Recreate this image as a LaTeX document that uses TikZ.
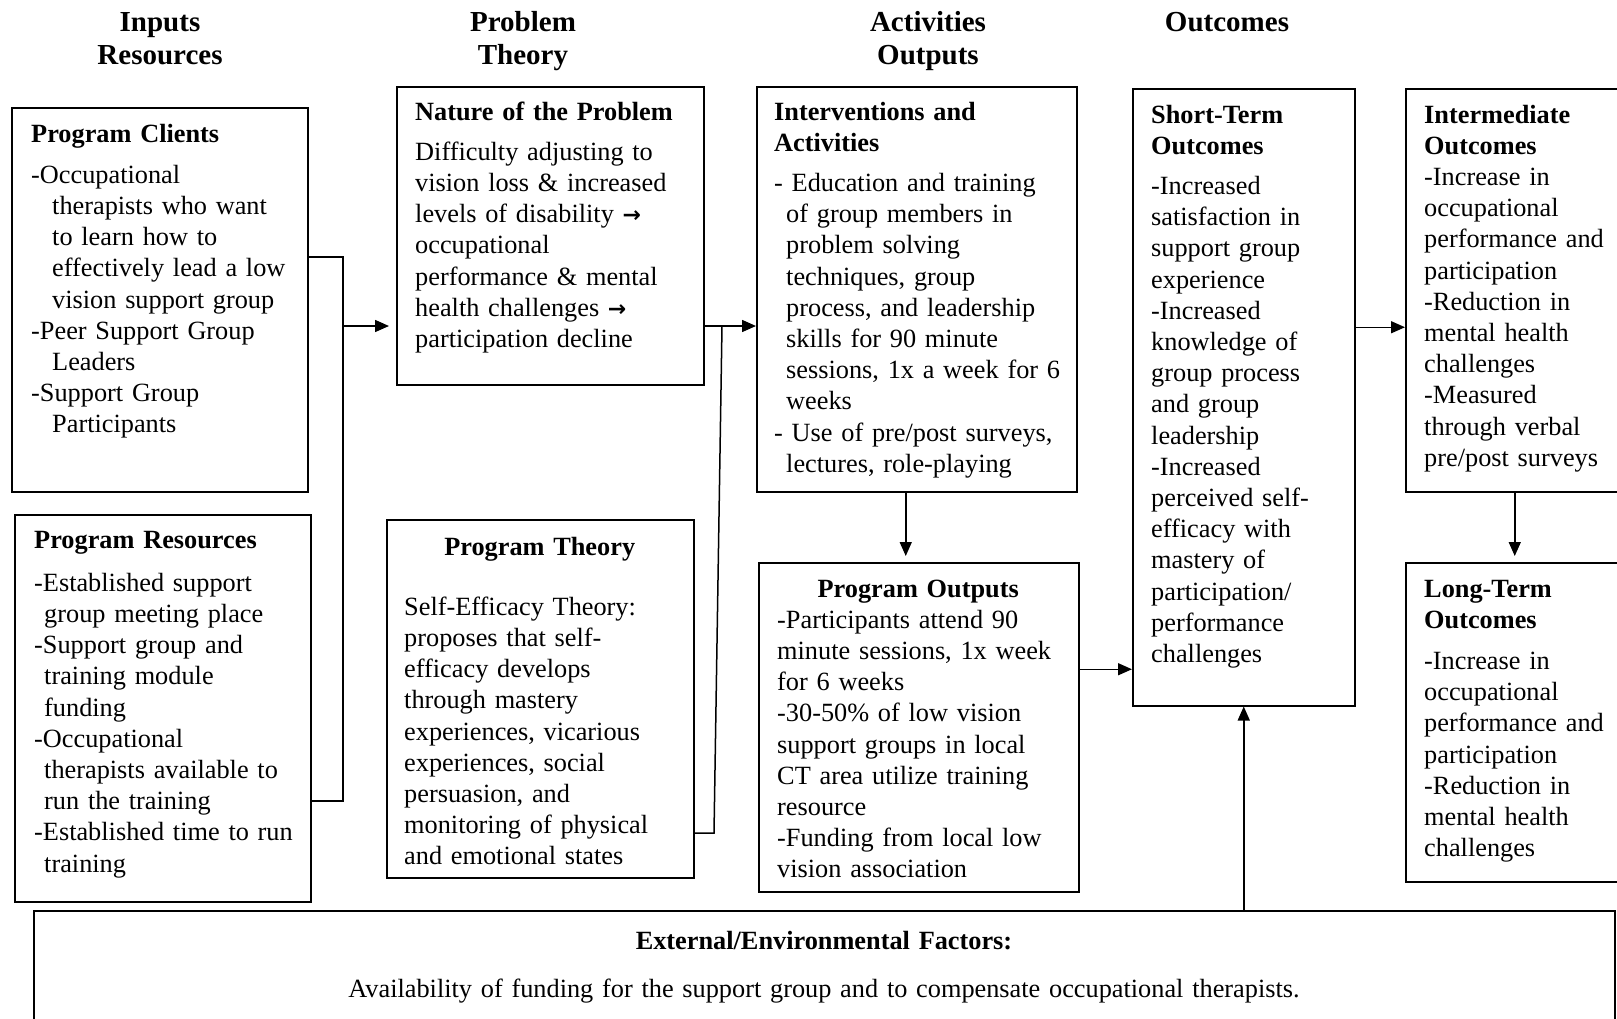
\documentclass[tikz,border=0pt]{standalone}
\usepackage{fontspec}
\setmainfont{Liberation Serif}
\newfontfamily\arrowfont{DejaVu Sans}
\usetikzlibrary{positioning,arrows.meta}
\newcommand{\ind}[1][21pt]{\hspace*{#1}}
\newcommand{\leadsarrow}{{\arrowfont\bfseries\fontsize{22}{31}\selectfont →}}

\begin{document}
\begin{tikzpicture}[x=1pt,y=-1pt,
  frame/.style={draw,line width=1.5pt,anchor=north west,inner sep=0pt},
  txt/.style={anchor=base west,inner sep=0pt,align=left,text width=#1,
    font=\fontsize{26.3}{31.2}\selectfont},
  txt/.default=300pt,
  head/.style={anchor=base,inner sep=0pt,align=center,text width=300pt,
    font=\fontsize{29}{33}\selectfont\bfseries},
  arr/.style={-{Triangle[length=14pt,width=12pt]},line width=1.5pt},
  link/.style={line width=1.5pt}
]
\useasboundingbox (0,0) rectangle (1617,1018);
\clip (0,0) rectangle (1617,1018);

% column heads
\node[head] (hIn) at (160,31) {Inputs\\Resources};
\node[head] (hPr) at (523,31) {Problem\\Theory};
\node[head] (hAc) at (928,31) {Activities\\Outputs};
\node[head] (hOut) at (1227,31) {Outcomes};

% boxes
\node[frame,minimum width=296pt,minimum height=384pt] (pc) at (11,107) {};
\node[frame,minimum width=296pt,minimum height=387pt] (pr) at (14,514) {};
\node[frame,minimum width=307pt,minimum height=298pt] (np) at (396,86) {};
\node[frame,minimum width=307pt,minimum height=358pt] (pt) at (386,519) {};
\node[frame,minimum width=320pt,minimum height=405pt] (ia) at (756,86) {};
\node[frame,minimum width=320pt,minimum height=329pt] (po) at (758,562) {};
\node[frame,minimum width=222pt,minimum height=617pt] (st) at (1132,88) {};
\node[frame,minimum width=230pt,minimum height=403pt] (io) at (1405,88) {};
\node[frame,minimum width=230pt,minimum height=319pt] (lo) at (1405,562) {};
\node[frame,minimum width=1581pt,minimum height=130pt] (ef) at (33,910) {};

% box texts
\node[txt] (pcText) at (31,142) {\textbf{Program Clients}\\[10pt]
-Occupational\\
\ind therapists who want\\
\ind to learn how to\\
\ind effectively lead a low\\
\ind vision support group\\
-Peer Support Group\\
\ind Leaders\\
-Support Group\\
\ind Participants};

\node[txt] (prText) at (34,548) {\textbf{Program Resources}\\[12pt]
-Established support\\
\ind[10pt]group meeting place\\
-Support group and\\
\ind[10pt]training module\\
\ind[10pt]funding\\
-Occupational\\
\ind[10pt]therapists available to\\
\ind[10pt]run the training\\
-Established time to run\\
\ind[10pt]training};

\node[txt] (npText) at (415,120) {\textbf{Nature of the Problem}\\[9pt]
Difficulty adjusting to\\
vision loss \& increased\\
levels of disability \leadsarrow\\
occupational\\
performance \& mental\\
health challenges \leadsarrow\\
participation decline};

\node[txt=271pt] (ptText) at (404,555) {\makebox[\linewidth]{\textbf{Program Theory}}\\[29pt]
Self-Efficacy Theory:\\
proposes that self-\\
efficacy develops\\
through mastery\\
experiences, vicarious\\
experiences, social\\
persuasion, and\\
monitoring of physical\\
and emotional states};

\node[txt] (iaText) at (774,120) {\textbf{Interventions and}\\
\textbf{Activities}\\[9pt]
- Education and training\\
\ind[12pt]of group members in\\
\ind[12pt]problem solving\\
\ind[12pt]techniques, group\\
\ind[12pt]process, and leadership\\
\ind[12pt]skills for 90 minute\\
\ind[12pt]sessions, 1x a week for 6\\
\ind[12pt]weeks\\
- Use of pre/post surveys,\\
\ind[12pt]lectures, role-playing};

\node[txt=282pt] (poText) at (777,597) {\makebox[\linewidth]{\textbf{Program Outputs}}\\
-Participants attend 90\\
minute sessions, 1x week\\
for 6 weeks\\
-30-50\% of low vision\\
support groups in local\\
CT area utilize training\\
resource\\
-Funding from local low\\
vision association};

\node[txt] (stText) at (1151,123) {\textbf{Short-Term}\\
\textbf{Outcomes}\\[9pt]
-Increased\\
satisfaction in\\
support group\\
experience\\
-Increased\\
knowledge of\\
group process\\
and group\\
leadership\\
-Increased\\
perceived self-\\
efficacy with\\
mastery of\\
participation/\\
performance\\
challenges};

\node[txt] (ioText) at (1424,123) {\textbf{Intermediate}\\
\textbf{Outcomes}\\
-Increase in\\
occupational\\
performance and\\
participation\\
-Reduction in\\
mental health\\
challenges\\
-Measured\\
through verbal\\
pre/post surveys};

\node[txt] (loText) at (1424,597) {\textbf{Long-Term}\\
\textbf{Outcomes}\\[10pt]
-Increase in\\
occupational\\
performance and\\
participation\\
-Reduction in\\
mental health\\
challenges};

\node[txt=1500pt,anchor=base,align=center] (efText) at (824,949) {\textbf{External/Environmental Factors:}\\[17pt]
Availability of funding for the support group and to compensate occupational therapists.};

% connectors
\coordinate (b1top) at (343,257);
\coordinate (b1mid) at (343,326);
\coordinate (b1bot) at (343,801);
\draw[link] (pc.east |- b1top) -- (b1top) -- (b1bot) -- (pr.east |- b1bot);
\draw[arr,shorten >=7pt] (b1mid) -- (b1mid -| np.west);

\coordinate (b2top) at (722,326);
\coordinate (b2bot) at (714,833);
\draw[arr] (np.east |- b2top) -- (b2top -| ia.west);
\draw[link] (b2top) -- (b2bot) -- (pt.east |- b2bot);

\draw[arr,shorten >=6pt] ([xshift=-11pt]ia.south) -- ([xshift=-11pt]ia.south |- po.north);
\draw[arr] ([yshift=58pt]po.east) -- ([yshift=58pt]po.east -| st.west);
\draw[arr] (st.south |- ef.north) -- (st.south);
\draw[arr] ([yshift=70pt]st.east) -- ([yshift=70pt]st.east -| io.west);
\draw[arr,shorten >=6pt] ([xshift=-6pt]io.south) -- ([xshift=-6pt]io.south |- lo.north);
\end{tikzpicture}
\end{document}
